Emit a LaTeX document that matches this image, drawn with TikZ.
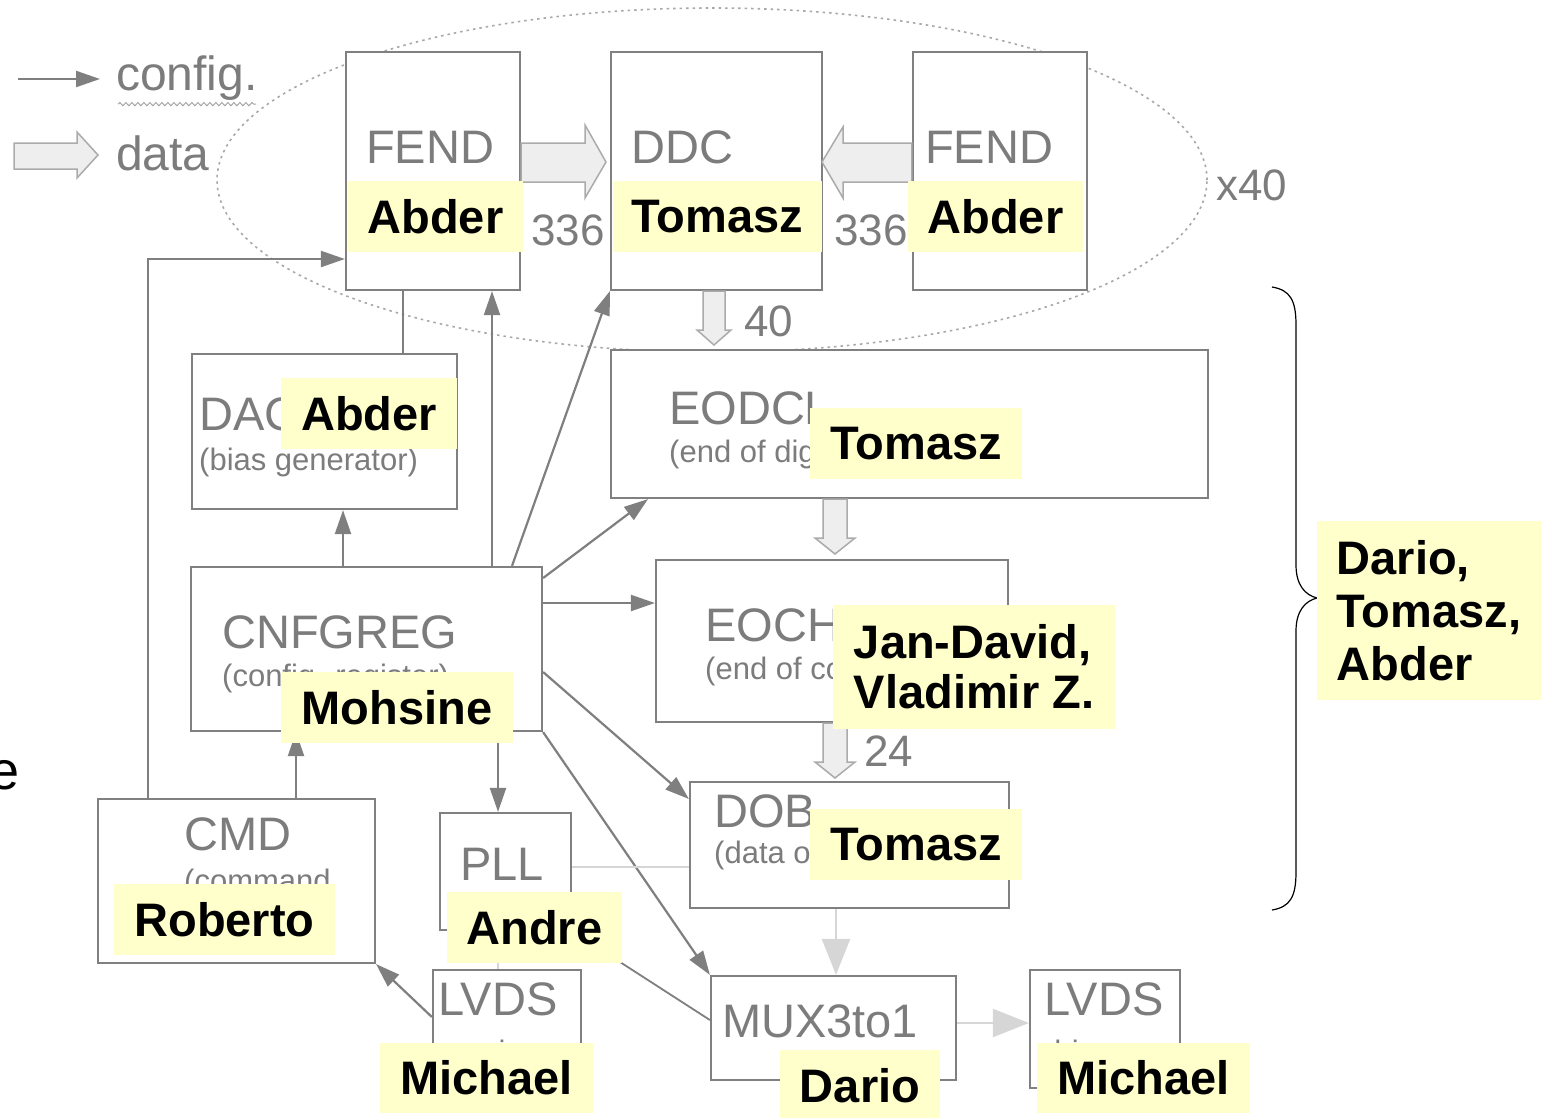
\documentclass[tikz,border=0pt]{standalone}
\usepackage{fontspec}
\setmainfont{Liberation Sans}
\usetikzlibrary{arrows.meta,decorations.pathmorphing,shapes.geometric}

\definecolor{boxline}{HTML}{808080}
\definecolor{boxtext}{HTML}{7C7C7C}
\definecolor{cfgcol}{HTML}{7F7F7F}
\definecolor{litecol}{HTML}{D6D6D6}
\definecolor{datafill}{HTML}{EEEEEE}
\definecolor{dataline}{HTML}{ABABAB}
\definecolor{lblfill}{HTML}{FFFFCC}
\definecolor{dotcol}{HTML}{A8A8A8}

\tikzset{
  blk/.style={draw=boxline, line width=2.2pt, fill=white, inner sep=0pt},
  ttl/.style={anchor=base west, inner sep=0pt, text=boxtext, font=\fontsize{47}{50}\selectfont},
  sub/.style={ttl, font=\fontsize{31}{35}\selectfont},
  num/.style={ttl, font=\fontsize{44}{48}\selectfont},
  cfg/.style={draw=cfgcol, line width=2.2pt, -{Triangle[length=24pt,width=16pt]}},
  cfgline/.style={draw=cfgcol, line width=2.2pt},
  lite/.style={draw=litecol, line width=2.2pt},
  litearr/.style={lite, -{Triangle[length=36pt,width=28pt]}},
  datarr/.style={fill=datafill, draw=dataline, line width=1.5pt, line join=miter},
  lbl/.style={fill=lblfill, inner sep=0pt, align=left, text=black,
              font=\bfseries\fontsize{47}{50}\selectfont},
}

\begin{document}
\begin{tikzpicture}[x=1pt, y=-1pt]
\useasboundingbox (0,0) rectangle (1541,1117);

% group of repeated front-end blocks
\node[draw=dotcol, line width=1.6pt, dash pattern=on 2.5pt off 4pt, ellipse,
      minimum width=990pt, minimum height=344pt, inner sep=0pt] (grp) at (712,180) {};
\node[num, anchor=base west] (xforty) at (1216,200) {x40};

% legend
\coordinate (cfgA) at (18,79);
\coordinate (cfgB) at (100,79);
\draw[cfg] (cfgA) -- (cfgB);
\node[ttl, font=\fontsize{48}{50}\selectfont] (cfgtxt) at (116,90) {config.};
\draw[cfgcol!70, line width=1pt, decorate,
      decoration={snake, amplitude=1.6pt, segment length=6pt}] (cfgtxt.south west) ++(2,4) -- ++(138,0);
\draw[datarr] (14,143) -- (77,143) -- (77,132) -- (98,155) -- (77,178) -- (77,169) -- (14,169) -- cycle;
\node[ttl, font=\fontsize{48}{50}\selectfont] (datatxt) at (116,170) {data};

% blocks
\node[blk, minimum width=174pt, minimum height=238pt] (fend1) at (433,171) {};
\node[blk, minimum width=211pt, minimum height=238pt] (ddc)   at (716.5,171) {};
\node[blk, minimum width=174pt, minimum height=238pt] (fend2) at (1000,171) {};
\node[blk, minimum width=265pt, minimum height=155pt] (dac)   at (324.5,431.5) {};
\node[blk, minimum width=597pt, minimum height=148pt] (eodcl) at (909.5,424) {};
\node[blk, minimum width=351pt, minimum height=164pt] (cnf)   at (366.5,649) {};
\node[blk, minimum width=352pt, minimum height=162pt] (eoch)  at (832,641) {};
\node[blk, minimum width=277pt, minimum height=164pt] (cmd)   at (236.5,881) {};
\node[blk, minimum width=131pt, minimum height=117pt] (pll)   at (505.5,871.5) {};
\node[blk, minimum width=319pt, minimum height=126pt] (dob)   at (849.5,845) {};
\node[blk, minimum width=148pt, minimum height=120pt] (lvdsa) at (507,1030) {};
\node[blk, minimum width=245pt, minimum height=104pt] (mux)   at (833.5,1028) {};
\node[blk, minimum width=150pt, minimum height=118pt] (lvdsb) at (1105,1029) {};

% block titles
\node[ttl] (t1) at (366,163) {FEND};
\node[sub] (t1b) at (366,204) {Front-end};
\node[ttl] (t2) at (631,163) {DDC};
\node[ttl] (t3) at (925,163) {FEND};
\node[sub] (t3b) at (925,204) {Front-end};
\node[ttl] (t4) at (199,430) {DAC};
\node[sub] (t4b) at (199,470) {(bias generator)};
\node[ttl] (t5) at (669,424) {EODCL};
\node[sub] (t5b) at (669,462) {(end of digital column)};
\node[ttl] (t6) at (222,648) {CNFGREG};
\node[sub] (t6b) at (222,686) {(config. register)};
\node[ttl] (t7) at (705,641) {EOCH};
\node[sub] (t7b) at (705,679) {(end of column)};
\node[ttl] (t8) at (184,850) {CMD};
\node[sub] (t8b) at (184,891) {(command};
\node[ttl] (t9) at (460,880) {PLL};
\node[ttl] (t10) at (714,827) {DOB};
\node[sub] (t10b) at (714,863) {(data output buffer)};
\node[ttl] (t11) at (438,1015) {LVDS};
\node[sub] (t11b) at (438,1062) {receiver};
\node[ttl] (t12) at (722,1037) {MUX3to1};
\node[ttl] (t13) at (1044,1015) {LVDS};
\node[sub] (t13b) at (1044,1062) {driver};

% data flow
\draw[datarr] (fend1.east |- 0,143) -- (585,143) -- (585,125) -- (606,162) -- (585,198) -- (585,182) -- (fend1.east |- 0,182) -- cycle;
\draw[datarr] (fend2.west |- 0,143) -- (843,143) -- (843,127) -- (822,162) -- (843,198) -- (843,182) -- (fend2.west |- 0,182) -- cycle;
\node[num] (n1) at (531,245) {336};
\node[num] (n2) at (834,245) {336};
\draw[datarr] (703,0 |- ddc.south) -- (703,330) -- (697,330) -- (714,345) -- (731,330) -- (725,330) -- (725,0 |- ddc.south) -- cycle;
\node[num] (n3) at (744,336) {40};
\draw[datarr] (823,0 |- eodcl.south) -- (823,538) -- (815,538) -- (835,554) -- (855,538) -- (847,538) -- (847,0 |- eodcl.south) -- cycle;
\draw[datarr] (823,0 |- eoch.south) -- (823,762) -- (815,762) -- (835,778) -- (855,762) -- (847,762) -- (847,0 |- eoch.south) -- cycle;
\node[num] (n4) at (864,766) {24};

% configuration paths
\draw[cfg] (148,0 |- cmd.north) |- (fend1.west |- 0,259);
\draw[cfgline] (403,0 |- dac.north) -- (403,0 |- fend1.south);
\draw[cfg] (343,0 |- cnf.north) -- (343,0 |- dac.south);
\draw[cfg] (492,0 |- cnf.north) -- (492,0 |- fend1.south);
\draw[cfg] (512,0 |- cnf.north) -- (ddc.south west);
\draw[cfg] (cnf.east |- 0,578) -- (648,0 |- eodcl.south);
\draw[cfg] (cnf.east |- 0,603) -- (eoch.west |- 0,603);
\draw[cfg] (cnf.east |- 0,672) -- (dob.west |- 0,799);
\draw[cfg] (cnf.south east) -- (mux.north west);
\draw[cfg] (296,0 |- cmd.north) -- (296,0 |- cnf.south);
\draw[cfg] (498,0 |- cnf.south) -- (498,0 |- pll.north);
\draw[cfg] (lvdsa.west |- 0,1017) -- (cmd.south east);
\draw[lite] (pll.east |- 0,867) -- (dob.west |- 0,867);
\draw[lite] (498,0 |- pll.south) -- (498,0 |- lvdsa.north);
\draw[cfgline, line width=1.8pt] (pll.south east) -- (mux.west |- 0,1020);
\draw[litearr] (836,0 |- dob.south) -- (836,0 |- mux.north);
\draw[litearr] (mux.east |- 0,1023) -- (lvdsb.west |- 0,1023);

% brace over the readout chain
\draw[black, line width=1.2pt] (1272,287) .. controls (1290,290) and (1296,300) .. (1296,325)
  -- (1296,565) .. controls (1296,585) and (1305,595) .. (1317,598)
  .. controls (1305,601) and (1296,611) .. (1296,631)
  -- (1296,872) .. controls (1296,897) and (1290,907) .. (1272,910);

% edge of a neighbouring text
\node[anchor=base west, inner sep=0pt, font=\fontsize{54}{56}\selectfont] (edge) at (-11,789) {e};

% responsible people
\node[lbl, minimum width=175pt, minimum height=71pt] (pA1) at (435.5,216.5) {Abder};
\node[lbl, minimum width=209pt, minimum height=71pt] (pT1) at (717.5,216.5) {Tomasz};
\node[lbl, minimum width=175pt, minimum height=71pt] (pA2) at (995.5,216.5) {Abder};
\node[lbl, minimum width=176pt, minimum height=71pt] (pA3) at (369,413.5) {Abder};
\node[lbl, minimum width=212pt, minimum height=71pt] (pT2) at (916,443.5) {Tomasz};
\node[lbl, minimum width=282pt, minimum height=124pt] (pJ) at (974,667) {Jan-David,\\Vladimir Z.};
\node[lbl, minimum width=232pt, minimum height=71pt] (pM) at (397,707.5) {Mohsine};
\node[lbl, minimum width=212pt, minimum height=71pt] (pT3) at (916,844.5) {Tomasz};
\node[lbl, minimum width=221pt, minimum height=71pt] (pR) at (224.5,919.5) {Roberto};
\node[lbl, minimum width=175pt, minimum height=71pt] (pAn) at (534.5,927.5) {Andre};
\node[lbl, minimum width=213pt, minimum height=70pt] (pMi1) at (486.5,1078) {Michael};
\node[lbl, minimum width=160pt, minimum height=71pt] (pD) at (860,1085.5) {Dario};
\node[lbl, minimum width=213pt, minimum height=70pt] (pMi2) at (1143.5,1078) {Michael};
\node[lbl, minimum width=224pt, minimum height=179pt, font=\bfseries\fontsize{47}{53}\selectfont]
  (pDTA) at (1429,610.5) {Dario,\\Tomasz,\\Abder};
\end{tikzpicture}
\end{document}
